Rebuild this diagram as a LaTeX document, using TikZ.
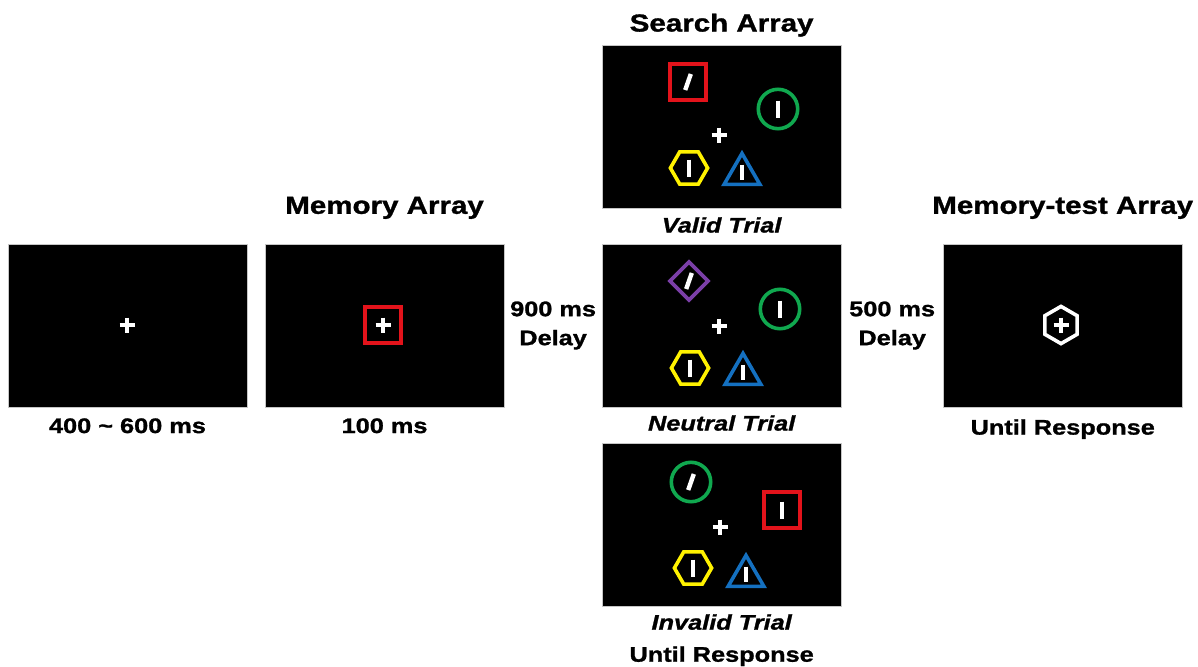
\documentclass[tikz,border=0pt]{standalone}
\usepackage{fontspec}
\setmainfont{Liberation Sans}[FakeStretch=1.2, FakeBold=1.2]
\usepackage{xcolor}
\usetikzlibrary{positioning,calc,shapes.geometric}
\definecolor{stimred}{HTML}{E3131B}
\definecolor{stimgreen}{HTML}{10A84F}
\definecolor{stimyellow}{HTML}{FFF200}
\definecolor{stimblue}{HTML}{1470C0}
\definecolor{stimpurple}{HTML}{7B3FA8}

\begin{document}
\begin{tikzpicture}[
  x=0.025cm, y=-0.025cm,
  node distance=0.45cm,
  screen/.style={rectangle, draw=gray!45, line width=0.6pt, fill=black,
    minimum width=5.975cm, minimum height=4.075cm, inner sep=0pt, outer sep=0pt},
  title/.style={font=\fontsize{17.5}{21}\selectfont\bfseries, inner sep=0pt},
  caption/.style={font=\fontsize{15}{20.6}\selectfont\bfseries, inner sep=0pt, align=center},
  trial/.style={font=\fontsize{15}{18}\selectfont\bfseries\itshape, inner sep=0pt},
  item/.style={draw, line width=0.09cm, inner sep=0pt, outer sep=0pt},
  sqitem/.style={item, rectangle, minimum size=0.91cm},
  circitem/.style={item, circle, minimum size=0.985cm},
  hexitem/.style={item, regular polygon, regular polygon sides=6, minimum size=0.93cm},
  triitem/.style={item, regular polygon, regular polygon sides=3, minimum size=1.03cm},
  diaitem/.style={item, regular polygon, regular polygon sides=4, shape border rotate=45, minimum size=0.95cm},
  bar/.style={white, line width=0.11cm},
  fix/.style={white, line width=0.11cm},
]
\useasboundingbox (0,0) rectangle (1198,666);

% Screens
\node[screen] (blank) at (127.5,325.5) {};
\node[screen, right=0.45cm of blank] (memory) {};
\node[screen, right=2.45cm of memory] (neutral) {};
\node[screen, above=0.9cm of neutral] (valid) {};
\node[screen, below=0.9cm of neutral] (invalid) {};
\node[screen, right=2.55cm of neutral] (test) {};

% Titles and captions
\node[title, above=0.2cm of valid] (searchlbl) {Search Array};
\node[title, above=0.62cm of memory] (memlbl) {Memory Array};
\node[title, above=0.62cm of test] (testlbl) {Memory-test Array};
\node[caption, below=0.275cm of blank] (blanktime) {400 \char`~\ 600 ms};
\node[caption, below=0.275cm of memory] (memtime) {100 ms};
\node[caption, below=0.3cm of test] (testtime) {Until Response};
\node[trial, below=0.225cm of valid] (validlbl) {Valid Trial};
\node[trial, below=0.2cm of neutral] (neutrallbl) {Neutral Trial};
\node[trial, below=0.2cm of invalid] (invalidlbl) {Invalid Trial};
\node[caption, below=0.4cm of invalidlbl] (searchtime) {Until Response};
\node[caption] (delayA) at ($(memory.east)!0.5!(neutral.west)$) {900 ms\\Delay};
\node[caption] (delayB) at ($(neutral.east)!0.5!(test.west)$) {500 ms\\Delay};

% Fixation points
\coordinate (blankFix) at (127,325);
\coordinate (memFix) at (383,325);
\coordinate (valFix) at (719,135);
\coordinate (neuFix) at (719,326);
\coordinate (invFix) at (720,527);
\coordinate (testFix) at (1061,325);

% Memory array
\node[sqitem, stimred] (memSq) at (383,325) {};

% Valid trial
\node[sqitem, stimred] (valSq) at (688,82) {};
\node[circitem, stimgreen] (valCirc) at (778,109) {};
\node[hexitem, stimyellow] (valHex) at (689,168) {};
\node[triitem, stimblue] (valTri) at (742,174) {};

% Neutral trial
\node[diaitem, stimpurple] (neuDia) at (689,281) {};
\node[circitem, stimgreen] (neuCirc) at (780,309) {};
\node[hexitem, stimyellow] (neuHex) at (690,368) {};
\node[triitem, stimblue] (neuTri) at (743,374) {};

% Invalid trial
\node[circitem, stimgreen] (invCirc) at (691,482) {};
\node[sqitem, stimred] (invSq) at (782,510) {};
\node[hexitem, stimyellow] (invHex) at (693,568) {};
\node[triitem, stimblue] (invTri) at (746,576) {};

% Memory-test array
\node[hexitem, white, shape border rotate=30] (testHex) at (1061,325) {};

% Line segments
\foreach \s in {valCirc,valHex,neuCirc,neuHex,invSq,invHex}
  \draw[bar] (\s.center) +(0,-8.5) -- +(0,8.5);
\foreach \s in {valTri,neuTri,invTri}
  \draw[bar] (\s.center) +(0,-9.5) -- +(0,6);
\foreach \s in {valSq,neuDia,invCirc}
  \draw[bar] (\s.center) +(2.8,-8) -- +(-2.8,8);

% Crosses
\foreach \c in {blankFix,memFix,valFix,neuFix,invFix,testFix}
  \draw[fix] (\c) +(-7.5,0) -- +(7.5,0) (\c) +(0,-7.5) -- +(0,7.5);
\end{tikzpicture}
\end{document}
